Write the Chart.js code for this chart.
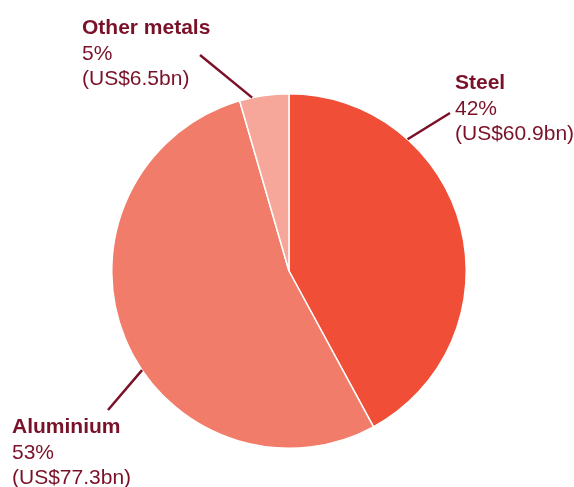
<!DOCTYPE html>
<html>
<head>
<meta charset="utf-8">
<script src="https://cdn.jsdelivr.net/npm/chart.js@4/dist/chart.umd.min.js"></script>
<style>
  html, body { margin: 0; padding: 0; background: #ffffff; }
  #wrap { width: 574px; height: 487px; position: relative; }
</style>
</head>
<body>
<div id="wrap"><canvas id="c" width="574" height="487"></canvas></div>
<script>
// ---- Data ----
const categories = ['Steel', 'Aluminium', 'Other metals'];
const valuesBn = [60.9, 77.3, 6.5];
const percentLabels = ['42%', '53%', '5%'];
const valueLabels = ['(US$60.9bn)', '(US$77.3bn)', '(US$6.5bn)'];
const colors = ['#F04E37', '#F27C6A', '#F6A79A'];

const textColor = '#7A1128';

// label placement (annotation layout)
const labelLayout = [
  { angle: 42,  lineEnd: [450, 113], text: [455, 89] },
  { angle: 236, lineEnd: [108, 410], text: [12, 433] },
  { angle: 348, lineEnd: [200, 55],  text: [82, 34] }
];

const calloutPlugin = {
  id: 'callouts',
  afterDatasetsDraw(chart) {
    const ctx = chart.ctx;
    const meta = chart.getDatasetMeta(0);
    ctx.save();
    meta.data.forEach((arc, i) => {
      const L = labelLayout[i];
      const a = (L.angle - 90) * Math.PI / 180;
      const sx = arc.x + arc.outerRadius * Math.cos(a);
      const sy = arc.y + arc.outerRadius * Math.sin(a);
      ctx.strokeStyle = textColor;
      ctx.lineWidth = 2.5;
      ctx.beginPath();
      ctx.moveTo(sx, sy);
      ctx.lineTo(L.lineEnd[0], L.lineEnd[1]);
      ctx.stroke();

      ctx.fillStyle = textColor;
      ctx.textAlign = 'left';
      ctx.textBaseline = 'alphabetic';
      ctx.font = 'bold 21px "Liberation Sans", Arial, sans-serif';
      ctx.fillText(categories[i], L.text[0], L.text[1]);
      ctx.font = '21px "Liberation Sans", Arial, sans-serif';
      ctx.fillText(percentLabels[i], L.text[0], L.text[1] + 25.5);
      ctx.fillText(valueLabels[i], L.text[0], L.text[1] + 51);
    });
    ctx.restore();
  }
};

new Chart(document.getElementById('c'), {
  type: 'pie',
  data: {
    labels: categories,
    datasets: [{
      data: valuesBn,
      backgroundColor: colors,
      borderColor: '#ffffff',
      borderWidth: 1.5
    }]
  },
  options: {
    responsive: false,
    animation: false,
    layout: { padding: { top: 93, bottom: 38, left: 111, right: 107 } },
    plugins: {
      legend: { display: false },
      tooltip: { enabled: false }
    }
  },
  plugins: [calloutPlugin]
});
</script>
</body>
</html>
